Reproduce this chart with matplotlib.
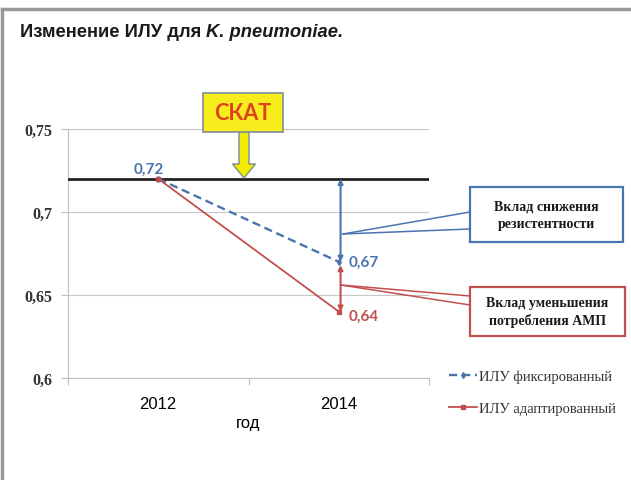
import numpy as np
import matplotlib
matplotlib.use("Agg")
import matplotlib.pyplot as plt
from matplotlib.patches import FancyArrow, Rectangle
from matplotlib.lines import Line2D

# data
years = ["2012", "2014"]
ilu_fixed = [0.72, 0.67]
ilu_adapted = [0.72, 0.64]
baseline = 0.72
yticks = [0.6, 0.65, 0.7, 0.75]
ytick_labels = ["0,6", "0,65", "0,7", "0,75"]

BLUE = "#4a74ae"
RED = "#c0504d"
SERIF = ["Liberation Serif", "DejaVu Serif"]

fig = plt.figure(figsize=(6.31, 4.81), dpi=100)
W, H = 631, 481

def fx(px):
    return px / W

def fy(py):
    return 1 - py / H

# outer frame (top + left only visible)
fig.add_artist(Line2D([fx(2), fx(631)], [fy(10), fy(10)], color="#999999", lw=2.5))
fig.add_artist(Line2D([fx(2), fx(2)], [fy(10), fy(481)], color="#999999", lw=2.5))

# title, second part in italics placed right after the first
t1 = fig.text(fx(20), fy(33), "Изменение ИЛУ для ", fontsize=13.2, fontweight="bold",
              family="Liberation Sans", va="center", color="#1a1a1a")
fig.canvas.draw()
bb = t1.get_window_extent()
fig.text(bb.x1 / W, fy(33), "K. pneumoniae.", fontsize=13.2, fontweight="bold", style="italic",
         family="Liberation Sans", va="center", color="#1a1a1a")

ax = fig.add_axes([fx(68), fy(379), fx(429) - fx(68), fy(130) - fy(379)])
x = np.arange(len(years))
ax.set_xlim(-0.5, 1.5)
ax.set_ylim(0.6, 0.75)

for s in ["top", "right"]:
    ax.spines[s].set_visible(False)
ax.spines["left"].set_color("#bfbfbf")
ax.spines["bottom"].set_color("#bfbfbf")
ax.set_yticks(yticks)
ax.set_yticklabels(ytick_labels, family=SERIF, fontweight="bold", fontsize=11.5, color="#333333")
ax.yaxis.grid(True, color="#c8c8c8", lw=0.8)
ax.set_axisbelow(True)
ax.tick_params(axis="y", length=5, color="#bfbfbf", pad=6)

ax.set_xticks([-0.5, 0.5, 1.5], minor=False)
ax.set_xticklabels([])
ax.set_xticks(x, minor=True)
ax.set_xticklabels(years, minor=True, fontsize=12, family="Liberation Sans")
ax.tick_params(axis="x", which="major", length=5, color="#bfbfbf")
ax.tick_params(axis="x", which="minor", length=0, pad=13)
ax.set_xlabel("год", fontsize=12, family="Liberation Sans", labelpad=3)

ax.axhline(baseline, color="#222222", lw=2, zorder=3)

l1, = ax.plot(x, ilu_fixed, color=BLUE, lw=1.7, ls=(0, (3.5, 2)), marker="d", ms=3, zorder=4,
              label="ИЛУ фиксированный")
l2, = ax.plot(x, ilu_adapted, color=RED, lw=1.3, marker="s", ms=2.5, zorder=4,
              label="ИЛУ адаптированный")

lblfont = dict(family="Lato", fontweight="bold", fontsize=11)
ax.annotate("0,72", (x[0], ilu_fixed[0]), xytext=(-7, 7), textcoords="offset points",
            ha="center", va="center", color=BLUE, **lblfont)
ax.annotate("0,67", (x[1], ilu_fixed[1]), xytext=(18, 0), textcoords="offset points",
            ha="center", va="center", color=BLUE, **lblfont)
ax.annotate("0,64", (x[1], ilu_adapted[1]), xytext=(18, -3), textcoords="offset points",
            ha="center", va="center", color=RED, **lblfont)

# contribution arrows
ax.annotate("", xy=(x[1] + 0.01, baseline), xytext=(x[1] + 0.01, ilu_fixed[1]),
            arrowprops=dict(arrowstyle="<|-|>", color=BLUE, lw=1.5, mutation_scale=7,
                            shrinkA=0, shrinkB=0), zorder=5)
ax.annotate("", xy=(x[1] + 0.01, ilu_fixed[1] - 0.002), xytext=(x[1] + 0.01, ilu_adapted[1]),
            arrowprops=dict(arrowstyle="<|-|>", color=RED, lw=1.5, mutation_scale=7,
                            shrinkA=0, shrinkB=0), zorder=5)

# callout boxes (figure pixels)
def callout(x0, y0, x1, y1, origin, ends, color, text):
    fig.add_artist(Line2D([fx(origin[0]), fx(x0)], [fy(origin[1]), fy(ends[0])], color=color, lw=1.1))
    fig.add_artist(Line2D([fx(origin[0]), fx(x0)], [fy(origin[1]), fy(ends[1])], color=color, lw=1.1))
    fig.add_artist(Rectangle((fx(x0), fy(y1)), fx(x1) - fx(x0), fy(y0) - fy(y1),
                             transform=fig.transFigure, facecolor="white", edgecolor=color, lw=1.6))
    fig.text(fx((x0 + x1) / 2), fy((y0 + y1) / 2), text, ha="center", va="center",
             family=SERIF, fontweight="bold", fontsize=10, color="#1a1a1a", linespacing=1.45)

callout(470, 188, 623, 243, (343, 235), (213, 230), BLUE, "Вклад снижения\nрезистентности")
callout(470, 288, 625, 337, (341, 286), (297, 306), RED, "Вклад уменьшения\nпотребления АМП")

# СКАТ box + down arrow
fig.add_artist(FancyArrow(fx(244), fy(133), 0, fy(179) - fy(133), width=fx(10),
                          head_width=fx(23), head_length=(fy(165) - fy(179)),
                          length_includes_head=True, transform=fig.transFigure,
                          facecolor="#f2ec00", edgecolor="#7f8c9a", lw=1))
fig.add_artist(Rectangle((fx(203), fy(133)), fx(283) - fx(203), fy(94) - fy(133),
                         transform=fig.transFigure, facecolor="#f7ec1c", edgecolor="#7f8c9a", lw=1.2))
fig.text(fx(243), fy(114), "СКАТ", ha="center", va="center", family="Lato",
         fontweight="bold", fontsize=15.5, color="#e0401e")

leg = fig.legend(handles=[l1, l2], loc="upper left", bbox_to_anchor=(fx(443), fy(365)),
                 frameon=False, prop=dict(family=SERIF, size=10.5), handlelength=1.9,
                 handletextpad=0.15, labelspacing=1.25, borderaxespad=0)
for t in leg.get_texts():
    t.set_color("#333333")

fig.savefig("out.png", dpi=100)
